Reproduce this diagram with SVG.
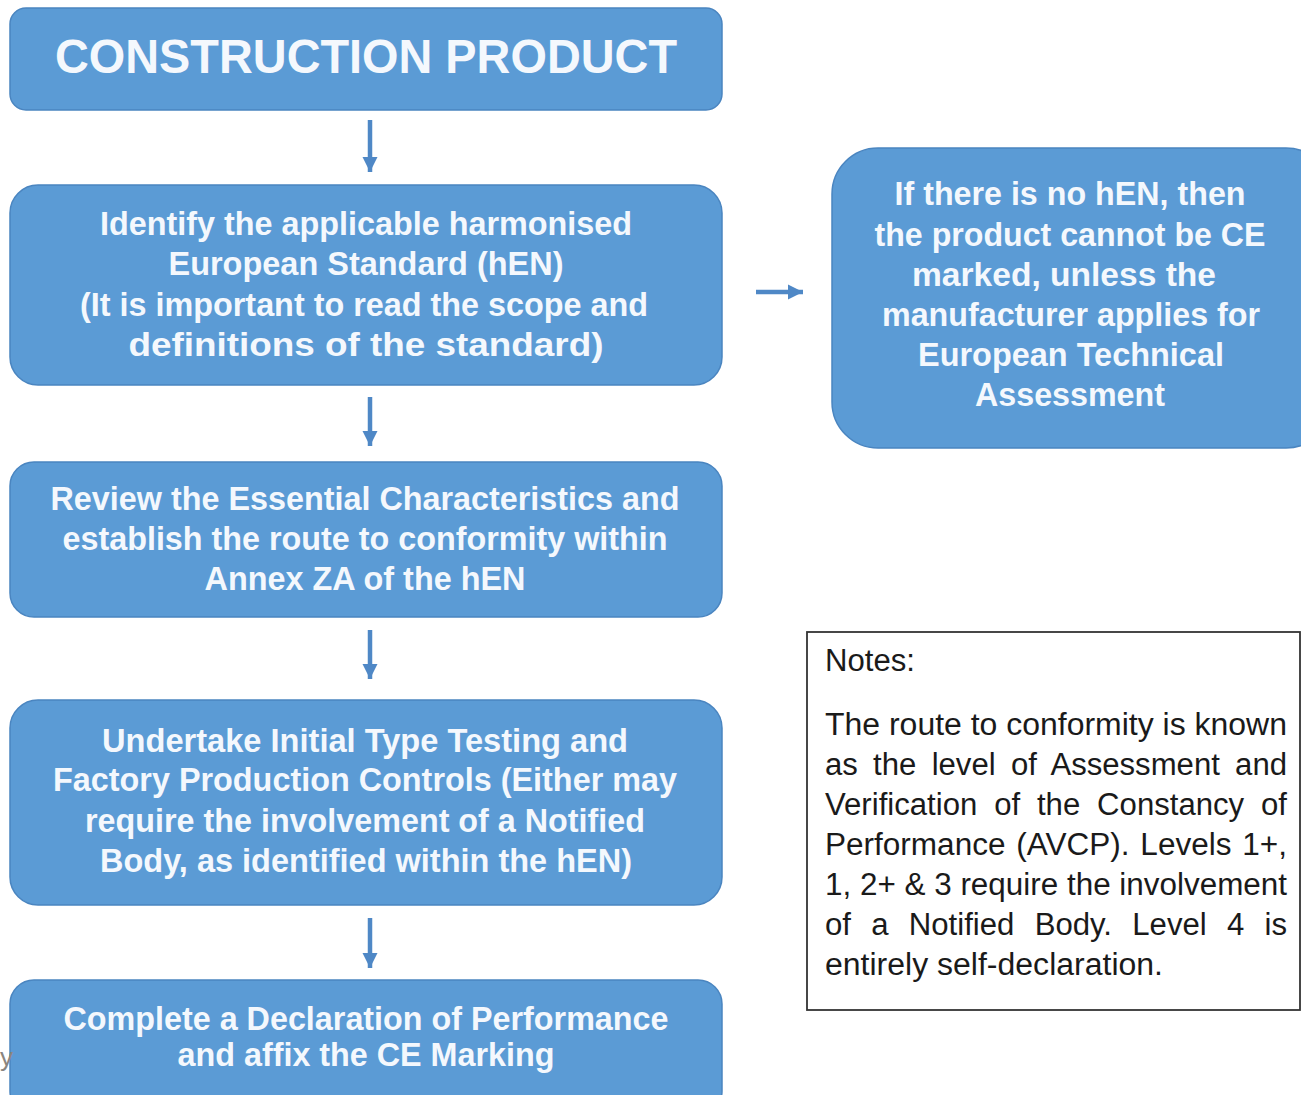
<svg xmlns="http://www.w3.org/2000/svg" width="1301" height="1095" viewBox="0 0 1301 1095">
<style>
.box{fill:#5b9bd5;stroke:#4a85c0;stroke-width:1.5}
.bt{font-family:"Liberation Sans",Arial,sans-serif;font-weight:bold;fill:#f4f8fd;text-anchor:middle;font-size:33px}
.nt{font-family:"Liberation Sans",Arial,sans-serif;fill:#1a1a1a;font-size:31px}
.conn{stroke:#4f88c6;stroke-width:4.5;fill:none}
</style>
<defs>
<marker id="ah" viewBox="0 0 10 10" refX="10" refY="5" markerWidth="3.4" markerHeight="3.4" orient="auto" markerUnits="strokeWidth">
<path d="M0,0 L10,5 L0,10 z" fill="#4f88c6"/>
</marker>
</defs>
<rect width="1301" height="1095" fill="#ffffff"/>
<g id="connectors">
<line class="conn" x1="370" y1="120" x2="370" y2="172" marker-end="url(#ah)"/>
<line class="conn" x1="370" y1="397" x2="370" y2="446" marker-end="url(#ah)"/>
<line class="conn" x1="370" y1="630" x2="370" y2="679" marker-end="url(#ah)"/>
<line class="conn" x1="370" y1="918" x2="370" y2="968" marker-end="url(#ah)"/>
<line class="conn" x1="756" y1="292" x2="803" y2="292" marker-end="url(#ah)"/>
</g>
<g id="n1">
<rect class="box" x="10" y="8" width="712" height="102" rx="16"/>
<text class="bt" x="366" y="73" style="font-size:48px" textLength="622" lengthAdjust="spacingAndGlyphs">CONSTRUCTION PRODUCT</text>
</g>
<g id="n2">
<rect class="box" x="10" y="185" width="712" height="200" rx="28"/>
<text class="bt" x="366" y="235" textLength="532" lengthAdjust="spacingAndGlyphs">Identify the applicable harmonised</text>
<text class="bt" x="366" y="275" textLength="395" lengthAdjust="spacingAndGlyphs">European Standard (hEN)</text>
<text class="bt" x="364" y="316" textLength="568" lengthAdjust="spacingAndGlyphs">(It is important to read the scope and</text>
<text class="bt" x="366" y="356" textLength="475" lengthAdjust="spacingAndGlyphs">definitions of the standard)</text>
</g>
<g id="n3">
<rect class="box" x="10" y="462" width="712" height="155" rx="24"/>
<text class="bt" x="365" y="510" textLength="629" lengthAdjust="spacingAndGlyphs">Review the Essential Characteristics and</text>
<text class="bt" x="365" y="550" textLength="605" lengthAdjust="spacingAndGlyphs">establish the route to conformity within</text>
<text class="bt" x="365" y="590" textLength="321" lengthAdjust="spacingAndGlyphs">Annex ZA of the hEN</text>
</g>
<g id="n4">
<rect class="box" x="10" y="700" width="712" height="205" rx="28"/>
<text class="bt" x="365" y="752" textLength="526" lengthAdjust="spacingAndGlyphs">Undertake Initial Type Testing and</text>
<text class="bt" x="365" y="791" textLength="624" lengthAdjust="spacingAndGlyphs">Factory Production Controls (Either may</text>
<text class="bt" x="365" y="832" textLength="560" lengthAdjust="spacingAndGlyphs">require the involvement of a Notified</text>
<text class="bt" x="366" y="872" textLength="532" lengthAdjust="spacingAndGlyphs">Body, as identified within the hEN)</text>
</g>
<g id="n5">
<rect class="box" x="10" y="980" width="712" height="135" rx="24"/>
<text class="bt" x="366" y="1030" textLength="605" lengthAdjust="spacingAndGlyphs">Complete a Declaration of Performance</text>
<text class="bt" x="366" y="1066" textLength="377" lengthAdjust="spacingAndGlyphs">and affix the CE Marking</text>
</g>
<g id="n6">
<rect class="box" x="832" y="148" width="500" height="300" rx="46"/>
<text class="bt" x="1070" y="205" textLength="351" lengthAdjust="spacingAndGlyphs">If there is no hEN, then</text>
<text class="bt" x="1070" y="246" textLength="391" lengthAdjust="spacingAndGlyphs">the product cannot be CE</text>
<text class="bt" x="1064" y="286" textLength="304" lengthAdjust="spacingAndGlyphs">marked, unless the</text>
<text class="bt" x="1071" y="326" textLength="378" lengthAdjust="spacingAndGlyphs">manufacturer applies for</text>
<text class="bt" x="1071" y="366" textLength="306" lengthAdjust="spacingAndGlyphs">European Technical</text>
<text class="bt" x="1070" y="406" textLength="190" lengthAdjust="spacingAndGlyphs">Assessment</text>
</g>
<g id="notes">
<rect x="807" y="632" width="493" height="378" fill="#ffffff" stroke="#333333" stroke-width="1.8"/>
<text class="nt" x="825" y="671" textLength="90" lengthAdjust="spacingAndGlyphs">Notes:</text>
<text class="nt" x="825" y="735" textLength="462" lengthAdjust="spacingAndGlyphs">The route to conformity is known</text>
<text class="nt" x="825" y="775" word-spacing="6.6" textLength="462" lengthAdjust="spacingAndGlyphs">as the level of Assessment and</text>
<text class="nt" x="825" y="815" word-spacing="8.2" textLength="462" lengthAdjust="spacingAndGlyphs">Verification of the Constancy of</text>
<text class="nt" x="825" y="855" word-spacing="2" textLength="462" lengthAdjust="spacingAndGlyphs">Performance (AVCP). Levels 1+,</text>
<text class="nt" x="825" y="895" textLength="462" lengthAdjust="spacingAndGlyphs">1, 2+ &amp; 3 require the involvement</text>
<text class="nt" x="825" y="935" word-spacing="11.5" textLength="462" lengthAdjust="spacingAndGlyphs">of a Notified Body. Level 4 is</text>
<text class="nt" x="825" y="975" textLength="338" lengthAdjust="spacingAndGlyphs">entirely self-declaration.</text>
</g>
<text x="0" y="1066" style="font-family:'Liberation Sans',Arial,sans-serif;font-size:26px;fill:#8a857f">y</text>
</svg>
